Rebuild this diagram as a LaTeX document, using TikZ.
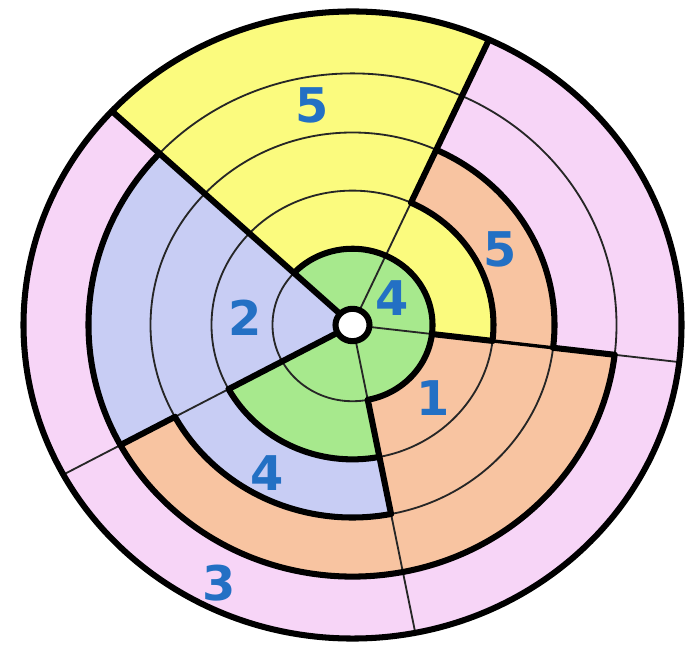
\documentclass[tikz,border=0pt]{standalone}
\usepackage{xcolor}
\usepackage{fontspec}
\setsansfont{DejaVu Sans}
\usepackage{tikz}
\definecolor{ringYellow}{HTML}{FBFB7E}
\definecolor{ringPink}{HTML}{F7D5F7}
\definecolor{ringBlue}{HTML}{C8CDF4}
\definecolor{ringGreen}{HTML}{A7E98D}
\definecolor{ringOrange}{HTML}{F8C4A1}
\definecolor{digitBlue}{HTML}{2370C4}

% ring radii and spoke angles
\def\rHole{17}
\def\rOne{80}
\def\rTwo{141}
\def\rThree{202}
\def\rFour{264}
\def\rFive{329}
\def\angA{65.5}
\def\angB{137}
\def\angC{208.5}
\def\angD{281}
\def\angE{353.2}

% one coloured cell: start angle, end angle, inner radius, outer radius, colour
\newcommand{\ringcell}[5]{\fill[#5] (#1:#3) arc[start angle=#1, end angle=#2, radius=#3]
  -- (#2:#4) arc[start angle=#2, end angle=#1, radius=#4] -- cycle;}

\begin{document}
\begin{tikzpicture}[
    x=0.025cm, y=0.025cm,
    heavy/.style={line width=4.3pt, line cap=round, line join=round, color=black},
    fine/.style={line width=1.3pt, color=black!85},
    digit/.style={font=\fontsize{34}{34}\selectfont\sffamily\bfseries, text=digitBlue, inner sep=0pt}
]
\fill[white] (0,0) rectangle (698,651);
\useasboundingbox (0,0) rectangle (698,651);
\coordinate (hub) at (352.5,326);

\begin{scope}[shift={(hub)}, yscale=0.953]
% upper right sector
\ringcell{-6.8}{\angA}{\rHole}{\rOne}{ringGreen}
\ringcell{-6.8}{\angA}{\rOne}{\rTwo}{ringYellow}
\ringcell{-6.8}{\angA}{\rTwo}{\rThree}{ringOrange}
\ringcell{-6.8}{\angA}{\rThree}{\rFive}{ringPink}
% top sector
\ringcell{\angA}{\angB}{\rHole}{\rOne}{ringGreen}
\ringcell{\angA}{\angB}{\rOne}{\rFive}{ringYellow}
% left sector
\ringcell{\angB}{\angC}{\rHole}{\rFour}{ringBlue}
\ringcell{\angB}{\angC}{\rFour}{\rFive}{ringPink}
% lower left sector
\ringcell{\angC}{\angD}{\rHole}{\rTwo}{ringGreen}
\ringcell{\angC}{\angD}{\rTwo}{\rThree}{ringBlue}
\ringcell{\angC}{\angD}{\rThree}{\rFour}{ringOrange}
\ringcell{\angC}{\angD}{\rFour}{\rFive}{ringPink}
% lower right sector
\ringcell{\angD}{\angE}{\rHole}{\rOne}{ringGreen}
\ringcell{\angD}{\angE}{\rOne}{\rFour}{ringOrange}
\ringcell{\angD}{\angE}{\rFour}{\rFive}{ringPink}

% thin rings and spokes
\foreach \r in {\rOne,\rTwo,\rThree,\rFour}
  \draw[fine] (0,0) circle[radius=\r];
\foreach \a in {\angA,\angB,\angC,\angD,\angE}
  \draw[fine] (\a:\rHole) -- (\a:\rFive);

% heavy borders
\draw[heavy] (-79:\rOne) arc[start angle=-79, end angle=137, radius=\rOne];
\draw[heavy] (-6.8:\rTwo) arc[start angle=-6.8, end angle=\angA, radius=\rTwo];
\draw[heavy] (-6.8:\rThree) arc[start angle=-6.8, end angle=\angA, radius=\rThree];
\draw[heavy] (\angC:\rTwo) arc[start angle=\angC, end angle=\angD, radius=\rTwo];
\draw[heavy] (\angC:\rThree) arc[start angle=\angC, end angle=\angD, radius=\rThree];
\draw[heavy] (\angB:\rFour) arc[start angle=\angB, end angle=\angE, radius=\rFour];
\draw[heavy] (\angA:\rTwo) -- (\angA:\rFive);
\draw[heavy] (\angB:\rHole) -- (\angB:\rFive);
\draw[heavy] (\angC:\rHole) -- (\angC:\rTwo);
\draw[heavy] (\angC:\rThree) -- (\angC:\rFour);
\draw[heavy] (\angD:\rOne) -- (\angD:\rThree);
\draw[heavy] (\angE:\rOne) -- (\angE:\rTwo);
\draw[heavy, line width=2.4pt] (\angE:\rTwo) -- (\angE:\rThree);
\draw[heavy] (\angE:\rThree) -- (\angE:\rFour);
\draw[heavy] (0,0) circle[radius=\rFive];
\draw[heavy, fill=white] (0,0) circle[radius=\rHole];
\end{scope}

% labels
\node[digit] (topFive) at (312,546) {5};
\node[digit] (rightFive) at (500,402) {5};
\node[digit] (greenFour) at (392,353) {4};
\node[digit] (blueTwo) at (245,333) {2};
\node[digit] (orangeOne) at (433,253) {1};
\node[digit] (blueFour) at (267,178) {4};
\node[digit] (pinkThree) at (219,68) {3};

\end{tikzpicture}
\end{document}
